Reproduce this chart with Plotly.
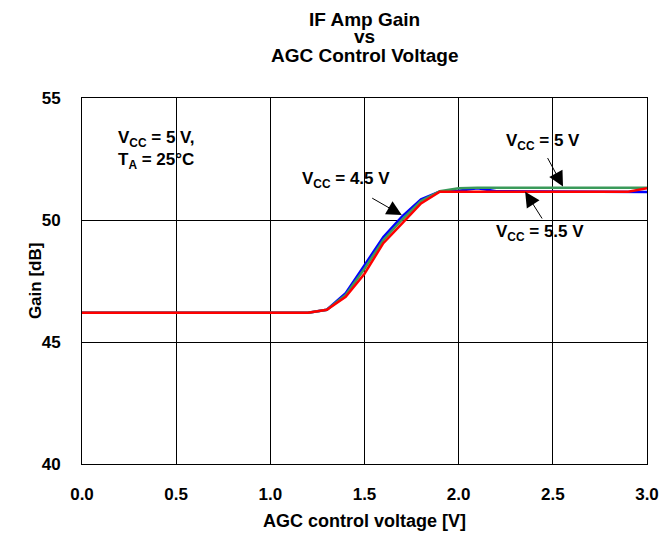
import plotly.graph_objects as go

# ---- data ----
agc_voltage = [0.0, 0.5, 1.0, 1.2, 1.3, 1.4, 1.5, 1.6, 1.7, 1.8, 1.9, 2.0, 2.1, 2.2, 2.5, 2.9, 3.0]
gain_vcc_4p5 = [46.2, 46.2, 46.2, 46.2, 46.32, 47.0, 48.15, 49.3, 50.15, 50.85, 51.17, 51.2, 51.3, 51.18, 51.17, 51.17, 51.15]
gain_vcc_5 = [46.2, 46.2, 46.2, 46.2, 46.32, 46.93, 48.0, 49.18, 50.02, 50.78, 51.18, 51.3, 51.32, 51.32, 51.32, 51.32, 51.32]
gain_vcc_5p5 = [46.2, 46.2, 46.2, 46.2, 46.32, 46.85, 47.8, 49.05, 49.86, 50.68, 51.16, 51.16, 51.16, 51.16, 51.16, 51.16, 51.3]

x_ticks = [0.0, 0.5, 1.0, 1.5, 2.0, 2.5, 3.0]
y_ticks = [40, 45, 50, 55]

title_lines = ["IF Amp Gain", "vs", "AGC Control Voltage"]
x_title = "AGC control voltage [V]"
y_title = "Gain [dB]"

FONT = "Liberation Sans, Arial, sans-serif"

fig = go.Figure()
fig.add_trace(go.Scatter(x=agc_voltage, y=gain_vcc_4p5, mode="lines",
                         line=dict(color="#0000FF", width=2.5), name="VCC = 4.5 V"))
fig.add_trace(go.Scatter(x=agc_voltage, y=gain_vcc_5, mode="lines",
                         line=dict(color="#3A9A5A", width=2.5), name="VCC = 5 V"))
fig.add_trace(go.Scatter(x=agc_voltage, y=gain_vcc_5p5, mode="lines",
                         line=dict(color="#FF0000", width=2.5), name="VCC = 5.5 V"))

ann = []
# Title as three lines
title_y = [1.2145, 1.1667, 1.1148]
for t, yy in zip(title_lines, title_y):
    ann.append(dict(text="<b>%s</b>" % t, xref="paper", yref="paper", x=0.5, y=yy,
                    showarrow=False, xanchor="center", yanchor="middle",
                    font=dict(family=FONT, size=19, color="black")))

# axis titles
ann.append(dict(text="<b>%s</b>" % x_title, xref="paper", yref="paper", x=0.5, y=-0.156,
                showarrow=False, xanchor="center", yanchor="middle",
                font=dict(family=FONT, size=18, color="black")))
ann.append(dict(text="<b>%s</b>" % y_title, xref="paper", yref="paper", x=-0.083, y=0.5,
                showarrow=False, xanchor="center", yanchor="middle", textangle=-90,
                font=dict(family=FONT, size=17, color="black")))

txt_font = dict(family=FONT, size=17, color="black")
ann.append(dict(text="<b>V<sub>CC</sub> = 5 V,<br>T<sub>A</sub> = 25°C</b>", x=0.18, y=53.85,
                xref="x", yref="y", showarrow=False, xanchor="left", yanchor="top",
                align="left", font=txt_font))
ann.append(dict(text="<b>V<sub>CC</sub> = 4.5 V</b>", x=1.40, y=51.64, xref="x", yref="y",
                showarrow=False, xanchor="center", yanchor="middle", font=txt_font))
ann.append(dict(text="<b>V<sub>CC</sub> = 5 V</b>", x=2.446, y=53.2, xref="x", yref="y",
                showarrow=False, xanchor="center", yanchor="middle", font=txt_font))
ann.append(dict(text="<b>V<sub>CC</sub> = 5.5 V</b>", x=2.432, y=49.45, xref="x", yref="y",
                showarrow=False, xanchor="center", yanchor="middle", font=txt_font))

arrows = [
    (1.533, 50.93, 1.698, 50.2),
    (2.468, 52.6, 2.554, 51.37),
    (2.448, 50.0, 2.353, 51.16),
]
for tx, ty, hx, hy in arrows:
    ann.append(dict(text="", x=hx, y=hy, ax=tx, ay=ty, xref="x", yref="y",
                    axref="x", ayref="y", showarrow=True, arrowhead=2,
                    arrowsize=3, arrowwidth=1, arrowcolor="black",
                    standoff=0, startstandoff=0))

# The page body adds an 8 px margin, so the figure is sized and offset to compensate.
fig.update_layout(
    width=662, height=526,
    margin=dict(l=74, r=23, t=90, b=70),
    paper_bgcolor="white", plot_bgcolor="white",
    showlegend=False,
    annotations=ann,
    font=dict(family=FONT, color="black"),
)
fig.update_xaxes(
    range=[0, 3], tickmode="array", tickvals=x_ticks,
    ticktext=["<b>%.1f</b>" % v for v in x_ticks],
    showgrid=True, gridcolor="black", gridwidth=1,
    showline=True, linecolor="black", linewidth=1, mirror=True,
    ticks="outside", ticklen=15, tickcolor="rgba(0,0,0,0)",
    tickfont=dict(family=FONT, size=17, color="black"),
    zeroline=False, automargin=False,
)
fig.update_yaxes(
    range=[40, 55], tickmode="array", tickvals=y_ticks,
    ticktext=["<b>%d</b>" % v for v in y_ticks],
    showgrid=True, gridcolor="black", gridwidth=1,
    showline=True, linecolor="black", linewidth=1, mirror=True,
    ticks="outside", ticklen=17, tickcolor="rgba(0,0,0,0)",
    tickfont=dict(family=FONT, size=17, color="black"),
    zeroline=False, automargin=False,
)

fig.write_html("out.html")
